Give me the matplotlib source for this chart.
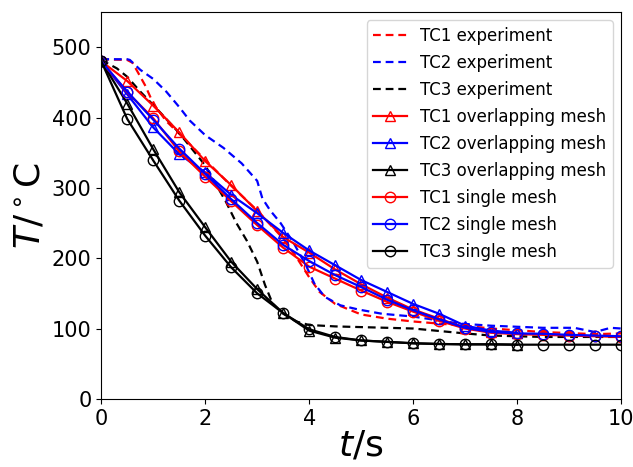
import numpy as np
import matplotlib

matplotlib.use("Agg")
import matplotlib.pyplot as plt

# experiment curves (dashed)
t_exp1 = [0, 0.5, 0.6, 0.7, 0.85, 1.0, 1.25, 1.5, 2.0, 2.5, 3.0, 3.5, 3.75, 4.0,
          4.2, 4.5, 5.0, 5.5, 6.0, 7.0, 7.5, 8.5, 9.5, 10]
T_exp1 = [483, 482, 478, 465, 445, 420, 395, 377, 340, 303, 268, 228, 202, 173,
          152, 135, 120, 114, 110, 104, 100, 95, 92, 93]
t_exp2 = [0, 0.5, 0.55, 0.75, 1.0, 1.25, 1.5, 1.7, 2.0, 2.35, 2.7, 3.0, 3.1, 3.25,
          3.45, 3.7, 3.95, 4.1, 4.3, 4.6, 4.95, 5.4, 6.0, 6.9, 7.5, 8.5, 9.1, 9.5, 9.8, 10]
T_exp2 = [483, 483, 482, 468, 455, 437, 415, 396, 375, 357, 335, 310, 285, 268,
          250, 222, 188, 164, 145, 133, 127, 121, 117, 107, 104, 101, 101, 95, 101, 100]
t_exp3 = [0, 0.3, 0.5, 0.75, 1.0, 1.5, 2.0, 2.2, 2.4, 2.6, 2.8, 3.0, 3.15, 3.3,
          3.5, 3.75, 4.0, 4.5, 5.0, 6.0, 7.0, 7.5, 8.5, 10]
T_exp3 = [482, 470, 458, 437, 418, 378, 332, 306, 280, 250, 225, 195, 162, 135,
          121, 110, 105, 103, 102, 100, 93, 90, 88, 88]

# overlapping mesh (triangles), t = 0..8 step 0.5
t_ov = np.arange(0, 8.01, 0.5)
T_ov1 = [480, 452, 417, 379, 338, 304, 267, 230, 208, 184, 163, 144, 127, 114, 101, 95, 93]
T_ov2 = [480, 433, 386, 348, 322, 290, 264, 236, 211, 190, 169, 152, 135, 121, 104, 97, 94]
T_ov3 = [480, 420, 355, 294, 244, 195, 156, 122, 97, 87, 83, 81, 79, 78, 77.5, 77.5, 77]

# single mesh (circles), t = 0..10 step 0.5
t_si = np.arange(0, 10.01, 0.5)
T_si1 = [480, 436, 399, 352, 316, 281, 247, 215, 188, 171, 154, 138, 124, 111, 100,
         94, 92, 91, 90, 89, 88]
T_si2 = [480, 437, 397, 356, 320, 284, 250, 219, 196, 176, 159, 141, 126, 113, 101,
         95, 93, 92.5, 91, 90, 89]
T_si3 = [480, 398, 339, 282, 232, 187, 150, 122, 99, 88, 83, 81, 79, 78, 77.5,
         77.5, 77, 77, 77, 77, 77]

fg = plt.figure(figsize=(6.33, 4.67), dpi=100)
ax = fg.add_axes([0.16, 0.146, 0.821, 0.828])

dash = dict(lw=1.6, dashes=(3.5, 2.2))
ax.plot(t_exp1, T_exp1, "--", color="red", label="TC1 experiment", **dash)
ax.plot(t_exp2, T_exp2, "--", color="blue", label="TC2 experiment", **dash)
ax.plot(t_exp3, T_exp3, "--", color="black", label="TC3 experiment", **dash)

mk = dict(lw=1.6, ms=7.5, mfc="none", mew=1.0)
ax.plot(t_ov, T_ov1, "-^", color="red", label="TC1 overlapping mesh", **mk)
ax.plot(t_ov, T_ov2, "-^", color="blue", label="TC2 overlapping mesh", **mk)
ax.plot(t_ov, T_ov3, "-^", color="black", label="TC3 overlapping mesh", **mk)
ax.plot(t_si, T_si1, "-o", color="red", label="TC1 single mesh", **mk)
ax.plot(t_si, T_si2, "-o", color="blue", label="TC2 single mesh", **mk)
ax.plot(t_si, T_si3, "-o", color="black", label="TC3 single mesh", **mk)

ax.set_xlim(0, 10)
ax.set_ylim(0, 550)
ax.set_xticks([0, 2, 4, 6, 8, 10])
ax.set_yticks([0, 100, 200, 300, 400, 500])
ax.tick_params(labelsize=15)
ax.set_xlabel(r"$t$/s", fontsize=26, labelpad=0)
ax.set_ylabel(r"$T/^\circ$C", fontsize=26)
ax.legend(loc="upper right", fontsize=12, labelspacing=0.54)

fg.savefig("out.png", dpi=100)
plt.close(fg)
